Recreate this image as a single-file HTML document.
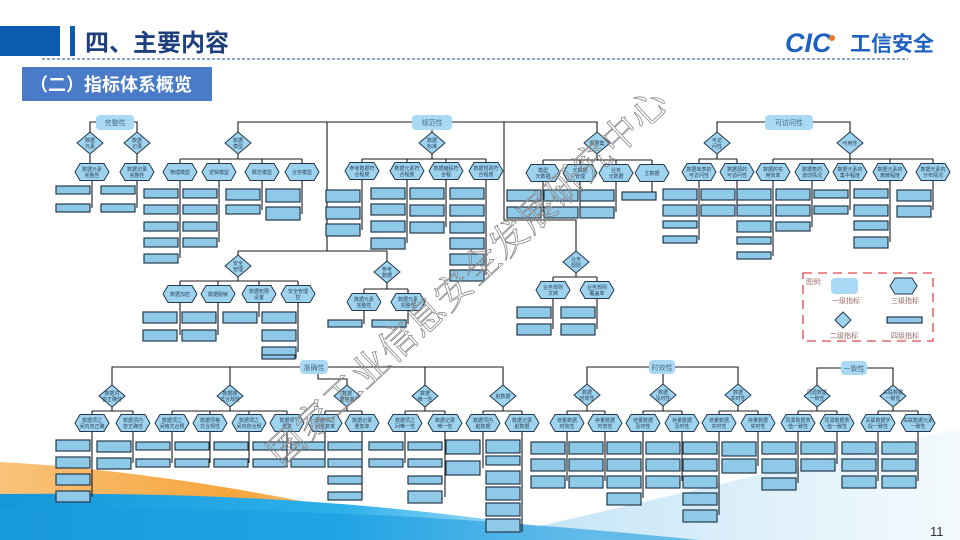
<!DOCTYPE html>
<html><head><meta charset="utf-8"><style>
html,body{margin:0;padding:0;background:#fff;}
body{width:960px;height:540px;overflow:hidden;position:relative;font-family:"Liberation Sans","Noto Sans CJK SC",sans-serif;}
svg{position:absolute;left:0;top:0;}
.l{fill:none;stroke:#1b1b1b;stroke-width:1.1}
.lf{fill:#8fc9e8;stroke:#24384a;stroke-width:1.2}
.hx,.dm{fill:#9dd3ef;stroke:#24384a;stroke-width:1}
.t{font-size:5px;fill:#2a3f55;text-anchor:middle;font-family:"Liberation Sans","Noto Sans CJK SC",sans-serif}
.t1{font-size:7px;fill:#4a6a88;text-anchor:middle;font-family:"Liberation Sans","Noto Sans CJK SC",sans-serif}
.g{font-size:7px;fill:#9a6a6a;font-family:"Liberation Sans","Noto Sans CJK SC",sans-serif}
</style></head><body>
<svg width="960" height="540" viewBox="0 0 960 540" xmlns="http://www.w3.org/2000/svg">
<defs>
<linearGradient id="og" x1="0" y1="0" x2="1" y2="0"><stop offset="0" stop-color="#f9c27a"/><stop offset="0.5" stop-color="#f6a53c"/><stop offset="1" stop-color="#fde3bd"/></linearGradient>
<linearGradient id="bg" x1="0" y1="0" x2="1" y2="0"><stop offset="0" stop-color="#1697d8"/><stop offset="0.55" stop-color="#2cb0ea"/><stop offset="1" stop-color="#e6f4fb"/></linearGradient>
<linearGradient id="wg" x1="0" y1="0" x2="1" y2="0"><stop offset="0" stop-color="#bfe2f5"/><stop offset="1" stop-color="#f4fafd"/></linearGradient>
<polygon id="hx" points="-17,0 -12,-8.5 12,-8.5 17,0 12,8.5 -12,8.5"/>
<polygon id="dm" points="0,-11 13,0 0,11 -13,0"/>
</defs>
<path d="M0,462 C150,470 320,500 470,540 L0,540 Z" fill="url(#og)"/>
<path d="M480,540 L960,428 L960,540 Z" fill="url(#wg)"/>
<path d="M0,494 C200,492 400,500 620,540 L0,540 Z" fill="url(#bg)"/>
<path d="M0,510 C300,505 500,520 700,540 L0,540Z" fill="#1a9be0" opacity="0.6"/>

<rect x="0" y="26" width="60" height="30" fill="#0b5cb1"/>
<rect x="70" y="26" width="5" height="30" fill="#0b5cb1"/>
<text x="85" y="51" font-size="24" font-weight="bold" fill="#1d3f7c" font-family="Liberation Sans,Noto Sans CJK SC,sans-serif">四、主要内容</text>
<line x1="42" y1="59" x2="908" y2="59" stroke="#1a4f96" stroke-width="1" stroke-dasharray="3,2"/>
<text x="785" y="52" font-size="27" font-weight="bold" font-style="italic" fill="#1f62c0" font-family="Liberation Sans,sans-serif">CIC</text>
<circle cx="832" cy="38" r="3" fill="#e9782b"/>
<text x="850" y="51" font-size="21" font-weight="bold" fill="#1f62c0" font-family="Liberation Sans,Noto Sans CJK SC,sans-serif">工信安全</text>
<rect x="22" y="67" width="190" height="34" fill="#4a7bc8"/>
<text x="30" y="91" font-size="18" font-weight="bold" fill="#fff" font-family="Liberation Sans,Noto Sans CJK SC,sans-serif">（二）指标体系概览</text>

<g class="l">
<path d="M97,122 H90 V132 M133,122 H137 V132"/>
<path d="M90,154 V163 M137,154 V163"/>
<path d="M92,180 V208 M137,180 V208"/>
<path d="M412,122 H238 V132 M327,122 V251 M238,251 H387 M238,251 V255 M387,251 V261"/>
<path d="M452,122 H597 V132 M504,122 V220 H576 V251 M432,130 V132"/>
<path d="M238,154 V159 M180,159 H302 M180,159 V164 M219,159 V164 M262,159 V164 M302,159 V164"/>
<path d="M180,180 V258 M219,180 V242 M262,180 V210 M302,180 V214"/>
<path d="M432,154 V159 M362,159 H486 M362,159 V163 M407,159 V163 M446,159 V163 M486,159 V163"/>
<path d="M362,179 V230 M407,179 V243 M446,179 V227 M486,179 V275"/>
<path d="M597,154 V160 M543,160 H652 M543,160 V165 M580,160 V165 M616,160 V165 M652,160 V165"/>
<path d="M543,181 V212 M580,181 V212 M616,181 V212 M652,181 V196"/>
<path d="M576,273 V277 M553,277 H597 M553,277 V282 M597,277 V282 M553,298 V329 M597,298 V329"/>
<path d="M238,277 V281 M180,281 H298 M180,281 V286 M218,281 V286 M259,281 V286 M298,281 V286"/>
<path d="M180,302 V335 M218,302 V335 M259,302 V317 M298,302 V352"/>
<path d="M387,283 V289 M364,289 H408 M364,289 V294 M408,289 V294 M364,310 V324 M408,310 V324"/>
<path d="M765,122 H717 V132 M813,122 H850 V132"/>
<path d="M717,154 V159 M699,159 H737 M699,159 V164 M737,159 V164 M699,180 V240 M737,180 V210"/>
<path d="M850,154 V159 M773,159 H933 M773,159 V164 M812,159 V164 M850,159 V164 M890,159 V164 M933,159 V164"/>
<path d="M773,180 V256 M812,180 V227 M850,180 V210 M890,180 V242 M933,180 V210"/>
</g>

<g class="l">
<path d="M300,367 H112 V385 M230,367 V385 M328,367 H503 V385 M425,367 V385 M318,374 V379 H347 V385"/>
<path d="M112,407 V411 M92,411 H133 M92,411 V415 M133,411 V415"/>
<path d="M230,407 V411 M172,411 H287 M172,411 V415 M210,411 V415 M249,411 V415 M287,411 V415"/>
<path d="M347,407 V411 M325,411 H362 M325,411 V415 M362,411 V415"/>
<path d="M425,407 V411 M405,411 H445 M405,411 V415 M445,411 V415"/>
<path d="M503,407 V411 M483,411 H522 M483,411 V415 M522,411 V415"/>
<path d="M92,431 V497 M133,431 V463 M172,431 V463 M210,431 V463 M249,431 V463 M287,431 V463 M325,431 V463 M362,431 V497 M405,431 V463 M445,431 V497 M483,431 V468 M522,431 V532"/>
<path d="M649,367 H587 V384 M675,367 H738 V384 M663,374 V384"/>
<path d="M587,406 V411 M567,411 H605 M567,411 V415 M605,411 V415"/>
<path d="M663,406 V411 M643,411 H682 M643,411 V415 M682,411 V415"/>
<path d="M738,406 V411 M719,411 H758 M719,411 V415 M758,411 V415"/>
<path d="M567,431 V481 M605,431 V481 M643,431 V498 M682,431 V481 M719,431 V515 M758,431 V466"/>
<path d="M841,368 H817 V385 M867,368 H893 V385"/>
<path d="M817,407 V411 M798,411 H837 M798,411 V415 M837,411 V415"/>
<path d="M893,407 V411 M878,411 H918 M878,411 V415 M918,411 V415"/>
<path d="M798,431 V483 M837,431 V464 M878,431 V481 M918,431 V481"/>
</g>

<rect x="96" y="115" width="38" height="15" rx="4" fill="#a9d9f4"/><text class="t1" x="115" y="125">完整性</text>
<rect x="412" y="115" width="40" height="15" rx="4" fill="#a9d9f4"/><text class="t1" x="432" y="125">规范性</text>
<rect x="765" y="115" width="48" height="15" rx="4" fill="#a9d9f4"/><text class="t1" x="789" y="125">可访问性</text>
<rect x="300" y="360" width="28" height="14" rx="4" fill="#a9d9f4"/><text class="t1" x="314" y="370">准确性</text>
<rect x="649" y="360" width="26" height="14" rx="4" fill="#a9d9f4"/><text class="t1" x="662" y="370">时效性</text>
<rect x="841" y="361" width="26" height="14" rx="4" fill="#a9d9f4"/><text class="t1" x="854" y="371">一致性</text>

<g class="dm">
<use href="#dm" x="90" y="143"/><use href="#dm" x="137" y="143"/>
<use href="#dm" x="238" y="143"/><use href="#dm" x="432" y="143"/><use href="#dm" x="597" y="143"/>
<use href="#dm" x="576" y="262"/><use href="#dm" x="238" y="266"/><use href="#dm" x="387" y="272"/>
<use href="#dm" x="717" y="143"/><use href="#dm" x="850" y="143"/>
<use href="#dm" x="112" y="396"/><use href="#dm" x="230" y="396"/><use href="#dm" x="347" y="396"/><use href="#dm" x="425" y="396"/><use href="#dm" x="503" y="396"/>
<use href="#dm" x="587" y="395"/><use href="#dm" x="663" y="395"/><use href="#dm" x="738" y="395"/>
<use href="#dm" x="817" y="396"/><use href="#dm" x="893" y="396"/>
</g>
<g class="t">
<text x="90" y="142">数据</text><text x="90" y="148">元素</text>
<text x="137" y="142">数据</text><text x="137" y="148">记录</text>
<text x="238" y="142">数据</text><text x="238" y="148">模型</text>
<text x="432" y="142">数据</text><text x="432" y="148">标准</text>
<text x="597" y="145">数据集</text>
<text x="576" y="261">业务</text><text x="576" y="267">规则</text>
<text x="238" y="265">安全</text><text x="238" y="271">管理</text>
<text x="387" y="271">参考</text><text x="387" y="277">数据</text>
<text x="717" y="142">可访</text><text x="717" y="148">问性</text>
<text x="850" y="145">可用性</text>
<text x="112" y="395">数据内</text><text x="112" y="401">容正确性</text>
<text x="230" y="395">数据格</text><text x="230" y="401">式合规性</text>
<text x="347" y="395">数据</text><text x="347" y="401">重复率</text>
<text x="425" y="395">数据</text><text x="425" y="401">唯一性</text>
<text x="503" y="398">脏数据</text>
<text x="587" y="394">数据</text><text x="587" y="400">时效性</text>
<text x="663" y="394">数据</text><text x="663" y="400">及时性</text>
<text x="738" y="394">数据</text><text x="738" y="400">实时性</text>
<text x="817" y="394">同源数据</text><text x="817" y="400">一致性</text>
<text x="893" y="394">关联数据</text><text x="893" y="400">一致性</text>
</g>

<g class="hx">
<use href="#hx" x="92" y="172"/><use href="#hx" x="137" y="172"/>
<use href="#hx" x="180" y="172"/><use href="#hx" x="219" y="172"/><use href="#hx" x="262" y="172"/><use href="#hx" x="302" y="172"/>
<use href="#hx" x="362" y="171"/><use href="#hx" x="407" y="171"/><use href="#hx" x="446" y="171"/><use href="#hx" x="486" y="171"/>
<use href="#hx" x="543" y="173"/><use href="#hx" x="580" y="173"/><use href="#hx" x="616" y="173"/><use href="#hx" x="652" y="173"/>
<use href="#hx" x="553" y="290"/><use href="#hx" x="597" y="290"/>
<use href="#hx" x="180" y="294"/><use href="#hx" x="218" y="294"/><use href="#hx" x="259" y="294"/><use href="#hx" x="298" y="294"/>
<use href="#hx" x="364" y="302"/><use href="#hx" x="408" y="302"/>
<use href="#hx" x="699" y="172"/><use href="#hx" x="737" y="172"/>
<use href="#hx" x="773" y="172"/><use href="#hx" x="812" y="172"/><use href="#hx" x="850" y="172"/><use href="#hx" x="890" y="172"/><use href="#hx" x="933" y="172"/>
<use href="#hx" x="92" y="423"/><use href="#hx" x="133" y="423"/>
<use href="#hx" x="172" y="423"/><use href="#hx" x="210" y="423"/><use href="#hx" x="249" y="423"/><use href="#hx" x="287" y="423"/>
<use href="#hx" x="325" y="423"/><use href="#hx" x="362" y="423"/>
<use href="#hx" x="405" y="423"/><use href="#hx" x="445" y="423"/>
<use href="#hx" x="483" y="423"/><use href="#hx" x="522" y="423"/>
<use href="#hx" x="567" y="423"/><use href="#hx" x="605" y="423"/><use href="#hx" x="643" y="423"/><use href="#hx" x="682" y="423"/><use href="#hx" x="719" y="423"/><use href="#hx" x="758" y="423"/>
<use href="#hx" x="798" y="423"/><use href="#hx" x="837" y="423"/><use href="#hx" x="878" y="423"/><use href="#hx" x="918" y="423"/>
</g>
<g class="t">
<text x="92" y="171">数据元素</text><text x="92" y="177">完整性</text>
<text x="137" y="171">数据记录</text><text x="137" y="177">完整性</text>
<text x="180" y="174">物理模型</text><text x="219" y="174">逻辑模型</text><text x="262" y="174">概念模型</text><text x="302" y="174">业务模型</text>
<text x="362" y="170">参考数据符</text><text x="362" y="176">合程度</text>
<text x="407" y="170">数据元素符</text><text x="407" y="176">合程度</text>
<text x="446" y="170">数据编码符</text><text x="446" y="176">合程</text>
<text x="486" y="170">数据规则符</text><text x="486" y="176">合程度</text>
<text x="543" y="172">模型</text><text x="543" y="178">元数据</text>
<text x="580" y="172">元数据</text><text x="580" y="178">管理</text>
<text x="616" y="172">业务</text><text x="616" y="178">元数据</text>
<text x="652" y="175">主数据</text>
<text x="553" y="289">业务规则</text><text x="553" y="295">文档</text>
<text x="597" y="289">业务规则</text><text x="597" y="295">覆盖率</text>
<text x="180" y="296">数据加密</text><text x="218" y="296">数据脱敏</text>
<text x="259" y="293">数据权限</text><text x="259" y="299">设置</text>
<text x="298" y="293">安全管理</text><text x="298" y="299">控</text>
<text x="364" y="301">数据元素</text><text x="364" y="307">完整性</text>
<text x="408" y="301">数据元素</text><text x="408" y="307">完整性</text>
<text x="699" y="171">数据库表的</text><text x="699" y="177">可访问性</text>
<text x="737" y="171">数据源的</text><text x="737" y="177">可访问性</text>
<text x="773" y="171">数据的实</text><text x="773" y="177">用效率</text>
<text x="812" y="171">数据表的</text><text x="812" y="177">波动情况</text>
<text x="850" y="171">数据元素的</text><text x="850" y="177">集中程度</text>
<text x="890" y="171">数据元素的</text><text x="890" y="177">离散程度</text>
<text x="933" y="171">数据元素的</text><text x="933" y="177">分布情况</text>
<text x="92" y="422">数据项之</text><text x="92" y="428">间内容正确</text>
<text x="133" y="422">数据项内</text><text x="133" y="428">容正确性</text>
<text x="172" y="422">数据项之</text><text x="172" y="428">间格式合规</text>
<text x="210" y="422">数据项格</text><text x="210" y="428">式合规性</text>
<text x="249" y="422">数据项之</text><text x="249" y="428">间内容合规</text>
<text x="287" y="422">数据项</text><text x="287" y="428">重复</text>
<text x="325" y="422">数据项之</text><text x="325" y="428">间重复率</text>
<text x="362" y="422">数据记录</text><text x="362" y="428">重复率</text>
<text x="405" y="422">数据项之</text><text x="405" y="428">间唯一性</text>
<text x="445" y="422">数据记录</text><text x="445" y="428">唯一性</text>
<text x="483" y="422">数据项内</text><text x="483" y="428">脏数据</text>
<text x="522" y="422">数据记录</text><text x="522" y="428">脏数据</text>
<text x="567" y="422">增量数据</text><text x="567" y="428">时效性</text>
<text x="605" y="422">存量数据</text><text x="605" y="428">时效性</text>
<text x="643" y="422">增量数据</text><text x="643" y="428">及时性</text>
<text x="682" y="422">存量数据</text><text x="682" y="428">及时性</text>
<text x="719" y="422">增量数据</text><text x="719" y="428">实时性</text>
<text x="758" y="422">存量数据</text><text x="758" y="428">实时性</text>
<text x="798" y="422">同源数据表</text><text x="798" y="428">值一致性</text>
<text x="837" y="422">同源数据表</text><text x="837" y="428">值一致性</text>
<text x="878" y="422">关联数据字</text><text x="878" y="428">段一致性</text>
<text x="918" y="422">关联数据元素</text><text x="918" y="428">一致性</text>
</g>

<g class="lf">
<rect x="56" y="186" width="34" height="8"/><rect x="56" y="204" width="34" height="8"/>
<rect x="101" y="186" width="34" height="8"/><rect x="101" y="204" width="34" height="8"/>
<rect x="144" y="189" width="34" height="9"/><rect x="144" y="205" width="34" height="9"/><rect x="144" y="222" width="34" height="9"/><rect x="144" y="238" width="34" height="9"/><rect x="144" y="254" width="34" height="9"/>
<rect x="183" y="189" width="34" height="9"/><rect x="183" y="205" width="34" height="9"/><rect x="183" y="222" width="34" height="9"/><rect x="183" y="238" width="34" height="9"/>
<rect x="226" y="189" width="34" height="11"/><rect x="226" y="205" width="34" height="9"/>
<rect x="266" y="189" width="34" height="13"/><rect x="266" y="207" width="34" height="13"/>
<rect x="326" y="190" width="34" height="12"/><rect x="326" y="207" width="34" height="12"/><rect x="326" y="224" width="34" height="12"/>
<rect x="371" y="188" width="34" height="11"/><rect x="371" y="204" width="34" height="11"/><rect x="371" y="221" width="34" height="11"/><rect x="371" y="238" width="34" height="11"/>
<rect x="410" y="188" width="34" height="11"/><rect x="410" y="205" width="34" height="11"/><rect x="410" y="222" width="34" height="11"/>
<rect x="450" y="188" width="34" height="11"/><rect x="450" y="205" width="34" height="11"/><rect x="450" y="222" width="34" height="11"/><rect x="450" y="238" width="34" height="11"/><rect x="450" y="254" width="34" height="11"/><rect x="450" y="270" width="34" height="11"/>
<rect x="507" y="190" width="34" height="11"/><rect x="507" y="207" width="34" height="11"/>
<rect x="544" y="190" width="34" height="11"/><rect x="544" y="207" width="34" height="11"/>
<rect x="580" y="190" width="34" height="11"/><rect x="580" y="207" width="34" height="11"/>
<rect x="622" y="192" width="34" height="8"/>
<rect x="517" y="307" width="34" height="11"/><rect x="517" y="324" width="34" height="11"/>
<rect x="561" y="307" width="34" height="11"/><rect x="561" y="324" width="34" height="11"/>
<rect x="143" y="312" width="34" height="11"/><rect x="143" y="330" width="34" height="11"/>
<rect x="182" y="312" width="34" height="11"/><rect x="182" y="330" width="34" height="11"/>
<rect x="223" y="312" width="34" height="11"/>
<rect x="262" y="312" width="34" height="11"/><rect x="262" y="330" width="34" height="11"/><rect x="262" y="347" width="34" height="11"/>
<rect x="328" y="320" width="34" height="7"/><rect x="372" y="320" width="34" height="7"/>
<rect x="663" y="189" width="34" height="11"/><rect x="663" y="205" width="34" height="11"/><rect x="663" y="221" width="34" height="7"/><rect x="663" y="236" width="34" height="7"/>
<rect x="701" y="189" width="34" height="11"/><rect x="701" y="205" width="34" height="11"/>
<rect x="737" y="189" width="34" height="11"/><rect x="737" y="205" width="34" height="11"/><rect x="737" y="221" width="34" height="11"/><rect x="737" y="237" width="34" height="7"/><rect x="737" y="252" width="34" height="7"/>
<rect x="776" y="189" width="34" height="11"/><rect x="776" y="205" width="34" height="11"/><rect x="776" y="222" width="34" height="9"/>
<rect x="814" y="190" width="34" height="8"/><rect x="814" y="206" width="34" height="8"/>
<rect x="854" y="189" width="34" height="9"/><rect x="854" y="205" width="34" height="11"/><rect x="854" y="221" width="34" height="9"/><rect x="854" y="237" width="34" height="11"/>
<rect x="897" y="190" width="34" height="11"/><rect x="897" y="206" width="34" height="11"/>
<rect x="56" y="440" width="34" height="11"/><rect x="56" y="457" width="34" height="11"/><rect x="56" y="474" width="34" height="11"/><rect x="56" y="491" width="34" height="11"/>
<rect x="97" y="441" width="34" height="11"/><rect x="97" y="458" width="34" height="11"/>
<rect x="136" y="442" width="34" height="8"/><rect x="136" y="459" width="34" height="8"/>
<rect x="175" y="442" width="34" height="8"/><rect x="175" y="459" width="34" height="8"/>
<rect x="214" y="442" width="34" height="8"/><rect x="214" y="459" width="34" height="8"/>
<rect x="253" y="442" width="34" height="8"/><rect x="253" y="459" width="34" height="8"/>
<rect x="291" y="442" width="34" height="8"/><rect x="291" y="459" width="34" height="8"/>
<rect x="328" y="442" width="34" height="8"/><rect x="328" y="459" width="34" height="8"/><rect x="328" y="476" width="34" height="8"/><rect x="328" y="492" width="34" height="8"/>
<rect x="369" y="442" width="34" height="8"/><rect x="369" y="459" width="34" height="8"/>
<rect x="408" y="442" width="34" height="8"/><rect x="408" y="459" width="34" height="8"/><rect x="408" y="476" width="34" height="8"/><rect x="408" y="491" width="34" height="12"/>
<rect x="446" y="440" width="34" height="14"/><rect x="446" y="461" width="34" height="14"/>
<rect x="486" y="440" width="34" height="13"/><rect x="486" y="456" width="34" height="9"/><rect x="486" y="471" width="34" height="13"/><rect x="486" y="487" width="34" height="13"/><rect x="486" y="503" width="34" height="13"/><rect x="486" y="519" width="34" height="13"/>
<rect x="531" y="442" width="34" height="12"/><rect x="531" y="459" width="34" height="12"/><rect x="531" y="476" width="34" height="12"/>
<rect x="569" y="442" width="34" height="12"/><rect x="569" y="459" width="34" height="12"/><rect x="569" y="476" width="34" height="12"/>
<rect x="607" y="442" width="34" height="12"/><rect x="607" y="459" width="34" height="12"/><rect x="607" y="476" width="34" height="12"/><rect x="607" y="493" width="34" height="12"/>
<rect x="646" y="442" width="34" height="12"/><rect x="646" y="459" width="34" height="12"/><rect x="646" y="476" width="34" height="12"/>
<rect x="683" y="442" width="34" height="12"/><rect x="683" y="459" width="34" height="12"/><rect x="683" y="476" width="34" height="12"/><rect x="683" y="493" width="34" height="12"/><rect x="683" y="510" width="34" height="12"/>
<rect x="722" y="442" width="34" height="14"/><rect x="722" y="459" width="34" height="14"/>
<rect x="762" y="442" width="34" height="12"/><rect x="762" y="459" width="34" height="14"/><rect x="762" y="478" width="34" height="12"/>
<rect x="801" y="442" width="34" height="12"/><rect x="801" y="459" width="34" height="12"/>
<rect x="842" y="442" width="34" height="12"/><rect x="842" y="459" width="34" height="12"/><rect x="842" y="476" width="34" height="12"/>
<rect x="882" y="442" width="34" height="12"/><rect x="882" y="459" width="34" height="12"/><rect x="882" y="476" width="34" height="12"/>
<rect x="262" y="355" width="33" height="4"/>
</g>

<rect x="803" y="273" width="130" height="68" fill="none" stroke="#e0474c" stroke-width="1.3" stroke-dasharray="9,6"/>
<text class="g" x="806" y="284">图例:</text>
<rect x="831" y="278" width="27" height="16" rx="4" fill="#a9d9f4"/>
<text class="g" x="832" y="303">一级指标</text>
<polygon points="890,286 895,278 912,278 917,286 912,294 895,294" class="hx"/>
<text class="g" x="891" y="303">三级指标</text>
<polygon points="843,312 851,320 843,328 835,320" class="dm"/>
<text class="g" x="830" y="338">二级指标</text>
<rect x="887" y="317" width="35" height="6" class="lf"/>
<text class="g" x="891" y="338">四级指标</text>

<text x="0" y="0" transform="translate(282,468) rotate(-43)" font-size="37" fill="none" stroke="#8a8a8a" stroke-width="0.8" font-family="Liberation Serif,Noto Serif CJK SC,serif" letter-spacing="1">国家工业信息安全发展研究中心</text>

<text x="930" y="536" font-size="13" fill="#333" font-family="Liberation Sans,sans-serif">11</text>
</svg>
</body></html>
